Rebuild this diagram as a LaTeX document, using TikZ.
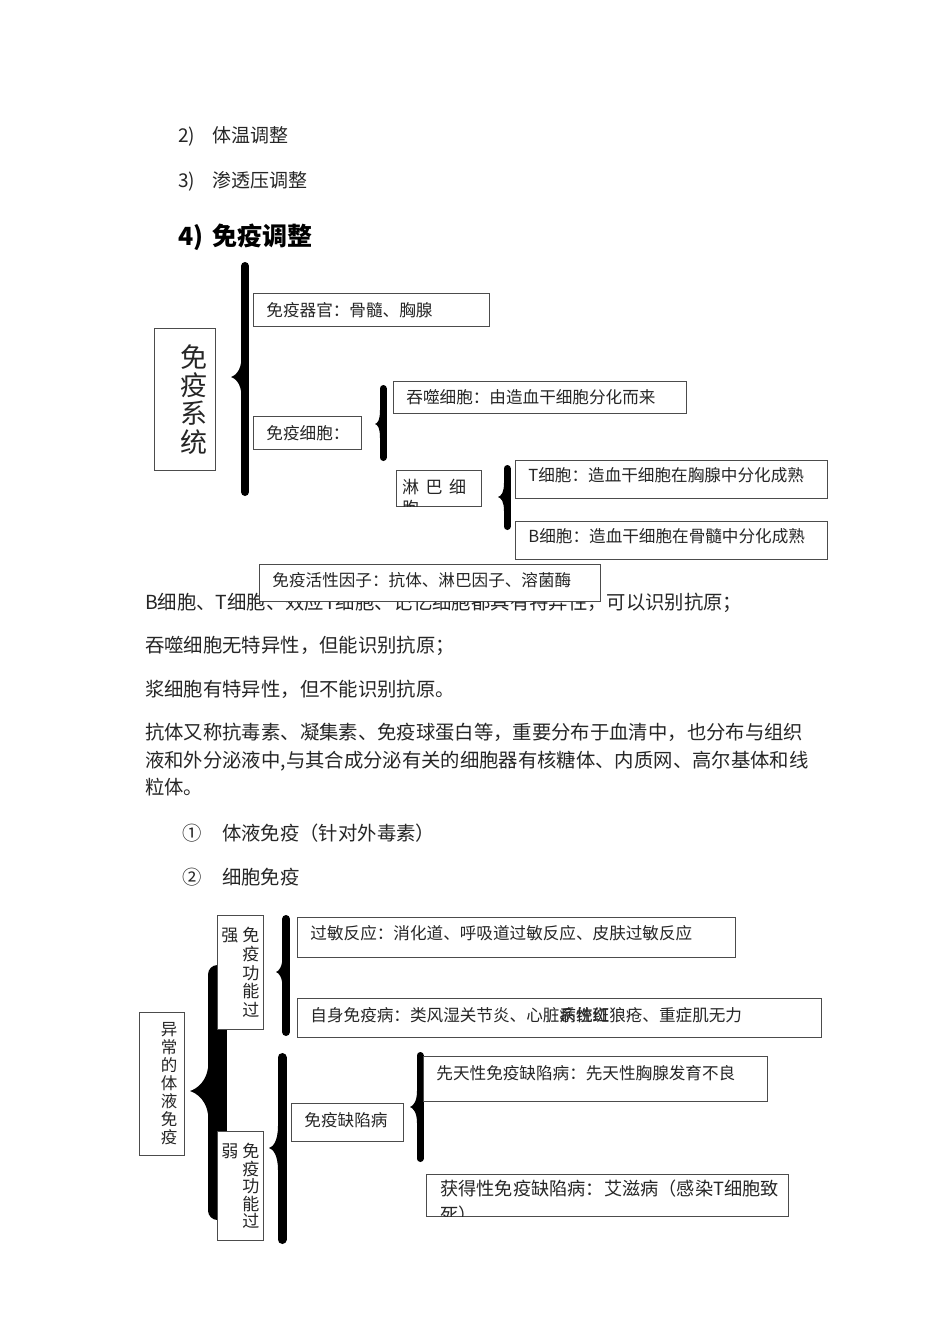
\documentclass[tikz,border=0pt]{standalone}
\usepackage{fontspec}
\setmainfont{Noto Sans CJK SC}
\begin{document}
\begin{tikzpicture}[x=1pt,y=-1pt,
  body/.style={anchor=west, inner sep=0pt, text=black!85, font=\fontsize{19.35}{27.5}\selectfont, text height=17pt, text depth=2.3pt},
  para/.style={anchor=north west, inner sep=0pt, align=left, text=black!85, font=\fontsize{19.35}{27.5}\selectfont},
  frame/.style={draw=black!70, line width=0.9pt, fill=white, anchor=north west, inner sep=0pt, text=black!85},
  box/.style={frame, inner xsep=13pt, align=left, font=\fontsize{16.6}{20}\selectfont},
  curly/.style={draw=black, line cap=round}]
\fill[white] (0,0) rectangle (950,1344);

% list items
\node[body, font=\fontsize{19}{22}\selectfont] (n2) at (178,135) {2)};
\node[body, font=\fontsize{19}{22}\selectfont] (temp) at (212,135) {体温调整};
\node[body, font=\fontsize{19}{22}\selectfont] (n3) at (178,180) {3)};
\node[body, font=\fontsize{19}{22}\selectfont] (osmo) at (212,180) {渗透压调整};
\node[body, font=\fontsize{25}{28}\selectfont\bfseries, text=black, text height=22pt, text depth=3pt] (n4) at (178,236) {4)};
\node[body, font=\fontsize{25}{28}\selectfont\bfseries, text=black, text height=22pt, text depth=3pt] (immune) at (212,236) {免疫调整};

% immune system braces
\draw[curly, line width=8] (245,266) -- (245,492);
\fill (241.5,357) .. controls (241.5,372) and (234,376) .. (231,377) .. controls (234,378) and (241.5,382) .. (241.5,397) -- cycle;
\draw[curly, line width=7] (383,388.5) -- (383,457.5);
\fill (380,410) .. controls (380,420) and (378,423) .. (375,424) .. controls (378,425) and (380,428) .. (380,438) -- cycle;
\draw[curly, line width=7] (507,468.5) -- (507,526.5);
\fill (504,483) .. controls (504,493) and (501,496) .. (498,497) .. controls (501,498) and (504,501) .. (504,511) -- cycle;

% immune system boxes
\node[frame, minimum width=61, minimum height=142, text width=45, align=right, font=\fontsize{27}{28.3}\selectfont] (system) at (154,328) {免\\疫\\系\\统};
\node[box, text width=210, minimum height=33] (organ) at (253,293) {免疫器官：骨髓、胸腺};
\node[box, text width=82, minimum height=33] (cells) at (253,416) {免疫细胞：};
\node[box, text width=267, minimum height=32] (phago) at (393,381) {吞噬细胞：由造血干细胞分化而来};
\node[frame, minimum width=85, minimum height=36] (lymph) at (396,470) {};
\begin{scope}
\clip ([yshift=0.6pt]lymph.south west) rectangle ([yshift=-0.6pt]lymph.north east);
\node[para, font=\fontsize{17}{21}\selectfont] (lymphtext) at (402,478.5) {淋\hspace{6.5pt}巴\hspace{6.5pt}细\\胞};
\end{scope}
\node[box, text width=286, minimum height=38, text depth=10pt] (tcell) at (515,460) {T细胞：造血干细胞在胸腺中分化成熟};
\node[box, text width=286, minimum height=38, text depth=9pt] (bcell) at (515,521) {B细胞：造血干细胞在骨髓中分化成熟};

% text
\node[body] (line1) at (145,602) {B细胞、T细胞、效应T细胞、记忆细胞都具有特异性，可以识别抗原；};
\node[box, text width=315, minimum height=37, text depth=7pt] (factor) at (259,564) {免疫活性因子：抗体、淋巴因子、溶菌酶};
\node[body] (line2) at (145,645) {吞噬细胞无特异性，但能识别抗原；};
\node[body] (line3) at (145,689) {浆细胞有特异性，但不能识别抗原。};
\node[para] (antibody) at (145,723.3) {抗体又称抗毒素、凝集素、免疫球蛋白等，重要分布于血清中，也分布与组织\\液和外分泌液中,与其合成分泌有关的细胞器有核糖体、内质网、高尔基体和线\\粒体。};
\node[body] (c1) at (182,833) {①};
\node[body] (humoral) at (222,833) {体液免疫（针对外毒素）};
\node[body] (c2) at (182,877) {②};
\node[body] (cellular) at (222,877) {细胞免疫};

% abnormal immunity braces
\draw[curly, line width=19] (217.5,974.5) -- (217.5,1210.5);
\fill (208.5,1061) .. controls (208.5,1082) and (196,1089) .. (190,1091) .. controls (196,1093) and (208.5,1100) .. (208.5,1121) -- cycle;
\draw[curly, line width=8] (286,919) -- (286,1032);
\fill (282.5,956) .. controls (282.5,967) and (279,971) .. (276,972) .. controls (279,973) and (282.5,977) .. (282.5,988) -- cycle;
\draw[curly, line width=9] (282,1057.5) -- (282,1239.5);
\fill (278,1126) .. controls (278,1141) and (273,1147) .. (269,1148) .. controls (273,1149) and (278,1155) .. (278,1170) -- cycle;
\draw[curly, line width=7] (420,1055.5) -- (420,1158.5);
\fill (417,1091) .. controls (417,1102) and (413,1106) .. (410,1107) .. controls (413,1108) and (417,1112) .. (417,1123) -- cycle;

% abnormal immunity boxes
\node[frame, minimum width=45, minimum height=143, text width=31, align=right, font=\fontsize{16.5}{18}\selectfont] (abnormal) at (139,1012) {异\\常\\的\\体\\液\\免\\疫};
\node[frame, minimum width=46, minimum height=114, text width=38, align=right, font=\fontsize{17}{18.75}\selectfont] (strong) at (217,915) {强\hspace{4pt}免\\疫\\功\\能\\过};
\node[box, text width=412, minimum height=40, text depth=10pt] (allergy) at (297,917) {过敏反应：消化道、呼吸道过敏反应、皮肤过敏反应};
\node[box, text width=498, minimum height=39, text depth=6pt] (autoimm) at (297,998) {自身免疫病：类风湿关节炎、心脏\rlap{病}\rlap{、}系\rlap{性}统\rlap{红}斑狼疮、重症肌无力};
\node[frame, minimum width=46, minimum height=109, text width=38, align=right, font=\fontsize{17}{17.5}\selectfont] (weak) at (217,1131) {弱\hspace{4pt}免\\疫\\功\\能\\过};
\node[box, text width=86, minimum height=38, text depth=5pt] (deficient) at (291,1103) {免疫缺陷病};
\node[box, text width=318, minimum height=45, text depth=13pt] (congenital) at (423,1056) {先天性免疫缺陷病：先天性胸腺发育不良};
\node[frame, minimum width=362, minimum height=42] (acquired) at (426,1174) {};
\begin{scope}
\clip ([yshift=0.6pt]acquired.south west) rectangle ([yshift=-0.6pt]acquired.north east);
\node[para, font=\fontsize{18.2}{26}\selectfont] (acquiredtext) at (440,1180) {获得性免疫缺陷病：艾滋病（感染T细胞致\\死）};
\end{scope}
\end{tikzpicture}
\end{document}
